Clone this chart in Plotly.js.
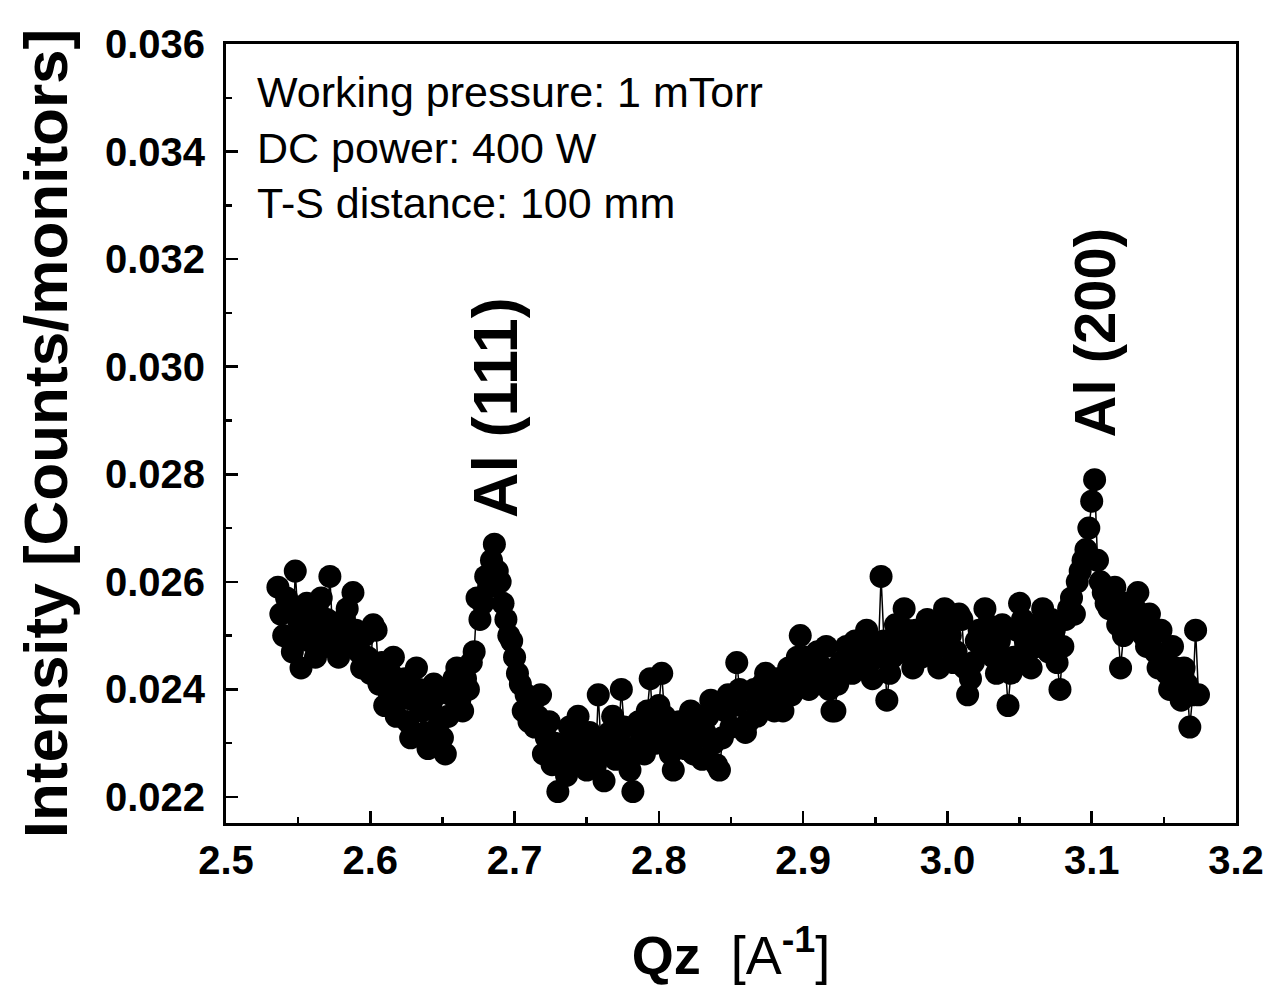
<!DOCTYPE html>
<html>
<head>
<meta charset="utf-8">
<script src="https://cdn.plot.ly/plotly-3.0.1.min.js"></script>
<style>
  html, body { margin: 0; padding: 0; background: #ffffff; }
  #chart { width: 1272px; height: 988px; }
</style>
</head>
<body>
<div id="chart"></div>
<script>
// Qz values [A^-1]
const qz = [
  2.536, 2.538, 2.540, 2.542, 2.544, 2.546, 2.548, 2.550, 2.552, 2.554,
  2.556, 2.558, 2.560, 2.562, 2.564, 2.566, 2.568, 2.570, 2.572, 2.574,
  2.576, 2.578, 2.580, 2.582, 2.584, 2.586, 2.588, 2.590, 2.592, 2.594,
  2.596, 2.598, 2.600, 2.602, 2.604, 2.606, 2.608, 2.610, 2.612, 2.614,
  2.616, 2.618, 2.620, 2.622, 2.624, 2.626, 2.628, 2.630, 2.632, 2.634,
  2.636, 2.638, 2.640, 2.642, 2.644, 2.646, 2.648, 2.650, 2.652, 2.654,
  2.656, 2.658, 2.660, 2.662, 2.664, 2.666, 2.668, 2.670, 2.672, 2.674,
  2.676, 2.678, 2.680, 2.682, 2.684, 2.686, 2.688, 2.690, 2.692, 2.694,
  2.696, 2.698, 2.700, 2.702, 2.704, 2.706, 2.708, 2.710, 2.712, 2.714,
  2.716, 2.718, 2.720, 2.722, 2.724, 2.726, 2.728, 2.730, 2.732, 2.734,
  2.736, 2.738, 2.740, 2.742, 2.744, 2.746, 2.748, 2.750, 2.752, 2.754,
  2.756, 2.758, 2.760, 2.762, 2.764, 2.766, 2.768, 2.770, 2.772, 2.774,
  2.776, 2.778, 2.780, 2.782, 2.784, 2.786, 2.788, 2.790, 2.792, 2.794,
  2.796, 2.798, 2.800, 2.802, 2.804, 2.806, 2.808, 2.810, 2.812, 2.814,
  2.816, 2.818, 2.820, 2.822, 2.824, 2.826, 2.828, 2.830, 2.832, 2.834,
  2.836, 2.838, 2.840, 2.842, 2.844, 2.846, 2.848, 2.850, 2.852, 2.854,
  2.856, 2.858, 2.860, 2.862, 2.864, 2.866, 2.868, 2.870, 2.872, 2.874,
  2.876, 2.878, 2.880, 2.882, 2.884, 2.886, 2.888, 2.890, 2.892, 2.894,
  2.896, 2.898, 2.900, 2.902, 2.904, 2.906, 2.908, 2.910, 2.912, 2.914,
  2.916, 2.918, 2.920, 2.922, 2.924, 2.926, 2.928, 2.930, 2.932, 2.934,
  2.936, 2.938, 2.940, 2.942, 2.944, 2.946, 2.948, 2.950, 2.952, 2.954,
  2.956, 2.958, 2.960, 2.962, 2.964, 2.966, 2.968, 2.970, 2.972, 2.974,
  2.976, 2.978, 2.980, 2.982, 2.984, 2.986, 2.988, 2.990, 2.992, 2.994,
  2.996, 2.998, 3.000, 3.002, 3.004, 3.006, 3.008, 3.010, 3.012, 3.014,
  3.016, 3.018, 3.020, 3.022, 3.024, 3.026, 3.028, 3.030, 3.032, 3.034,
  3.036, 3.038, 3.040, 3.042, 3.044, 3.046, 3.048, 3.050, 3.052, 3.054,
  3.056, 3.058, 3.060, 3.062, 3.064, 3.066, 3.068, 3.070, 3.072, 3.074,
  3.076, 3.078, 3.080, 3.082, 3.084, 3.086, 3.088, 3.090, 3.092, 3.094,
  3.096, 3.098, 3.100, 3.102, 3.104, 3.106, 3.108, 3.110, 3.112, 3.114,
  3.116, 3.118, 3.120, 3.122, 3.124, 3.126, 3.128, 3.130, 3.132, 3.134,
  3.136, 3.138, 3.140, 3.142, 3.144, 3.146, 3.148, 3.150, 3.152, 3.154,
  3.156, 3.158, 3.160, 3.162, 3.164, 3.166, 3.168, 3.170, 3.172, 3.174
];

// Intensity values [Counts/monitors]
const intensity = [
  0.0259, 0.0254, 0.0250, 0.0257, 0.0255, 0.0247, 0.0262, 0.0253, 0.0244, 0.0250,
  0.0256, 0.0249, 0.0251, 0.0246, 0.0254, 0.0257, 0.0248, 0.0253, 0.0261, 0.0250,
  0.0252, 0.0246, 0.0249, 0.0253, 0.0255, 0.0248, 0.0258, 0.0251, 0.0247, 0.0244,
  0.0250, 0.0246, 0.0243, 0.0252, 0.0251, 0.0241, 0.0245, 0.0237, 0.0240, 0.0243,
  0.0246, 0.0235, 0.0238, 0.0241, 0.0242, 0.0234, 0.0231, 0.0238, 0.0244, 0.0240,
  0.0236, 0.0232, 0.0229, 0.0237, 0.0241, 0.0239, 0.0234, 0.0231, 0.0228, 0.0235,
  0.0239, 0.0242, 0.0244, 0.0238, 0.0236, 0.0242, 0.0240, 0.0245, 0.0247, 0.0257,
  0.0253, 0.0256, 0.0261, 0.0259, 0.0264, 0.0267, 0.0262, 0.0260, 0.0256, 0.0253,
  0.0250, 0.0249, 0.0246, 0.0243, 0.0241, 0.0236, 0.0239, 0.0234, 0.0237, 0.0233,
  0.0235, 0.0239, 0.0228, 0.0231, 0.0234, 0.0226, 0.0230, 0.0221, 0.0227, 0.0229,
  0.0224, 0.0233, 0.0230, 0.0227, 0.0235, 0.0231, 0.0228, 0.0225, 0.0232, 0.0230,
  0.0226, 0.0239, 0.0229, 0.0223, 0.0228, 0.0232, 0.0235, 0.0227, 0.0231, 0.0240,
  0.0233, 0.0229, 0.0225, 0.0221, 0.0228, 0.0234, 0.0231, 0.0228, 0.0236, 0.0242,
  0.0233, 0.0230, 0.0237, 0.0243, 0.0235, 0.0232, 0.0228, 0.0225, 0.0230, 0.0234,
  0.0231, 0.0229, 0.0233, 0.0236, 0.0228, 0.0231, 0.0235, 0.0227, 0.0232, 0.0235,
  0.0238, 0.0230, 0.0226, 0.0225, 0.0231, 0.0236, 0.0239, 0.0233, 0.0237, 0.0245,
  0.0240, 0.0238, 0.0232, 0.0234, 0.0238, 0.0240, 0.0235, 0.0237, 0.0241, 0.0243,
  0.0238, 0.0239, 0.0236, 0.0242, 0.0240, 0.0236, 0.0241, 0.0244, 0.0239, 0.0241,
  0.0246, 0.0250, 0.0244, 0.0246, 0.0240, 0.0242, 0.0245, 0.0247, 0.0242, 0.0244,
  0.0248, 0.0240, 0.0236, 0.0236, 0.0241, 0.0245, 0.0243, 0.0248, 0.0246, 0.0243,
  0.0249, 0.0247, 0.0244, 0.0249, 0.0251, 0.0245, 0.0242, 0.0248, 0.0246, 0.0261,
  0.0249, 0.0238, 0.0243, 0.0246, 0.0252, 0.0250, 0.0247, 0.0255, 0.0251, 0.0248,
  0.0244, 0.0251, 0.0249, 0.0246, 0.0250, 0.0253, 0.0247, 0.0249, 0.0252, 0.0244,
  0.0248, 0.0255, 0.0251, 0.0250, 0.0245, 0.0247, 0.0254, 0.0253, 0.0244, 0.0239,
  0.0242, 0.0245, 0.0249, 0.0251, 0.0247, 0.0255, 0.0252, 0.0248, 0.0246, 0.0243,
  0.0249, 0.0252, 0.0245, 0.0237, 0.0243, 0.0246, 0.0251, 0.0256, 0.0253, 0.0249,
  0.0247, 0.0244, 0.0249, 0.0252, 0.0248, 0.0255, 0.0250, 0.0247, 0.0253, 0.0251,
  0.0245, 0.0240, 0.0248, 0.0253, 0.0255, 0.0257, 0.0254, 0.0260, 0.0262, 0.0264,
  0.0266, 0.0270, 0.0275, 0.0279, 0.0264, 0.0260, 0.0258, 0.0256, 0.0255, 0.0258,
  0.0259, 0.0252, 0.0244, 0.0250, 0.0256, 0.0254, 0.0252, 0.0255, 0.0258, 0.0253,
  0.0250, 0.0248, 0.0254, 0.0250, 0.0247, 0.0244, 0.0251, 0.0246, 0.0243, 0.0240,
  0.0248, 0.0244, 0.0240, 0.0238, 0.0244, 0.0241, 0.0233, 0.0239, 0.0251, 0.0239
];

const infoLines = ["Working pressure: 1 mTorr", "DC power: 400 W", "T-S distance: 100 mm"];
const peakLabels = ["Al (111)", "Al (200)"];
const peakQz = [2.686, 3.102];
const peakLabelY = [0.02924, 0.03063];

const xTickVals = [2.5, 2.6, 2.7, 2.8, 2.9, 3.0, 3.1, 3.2];
const xTickText = ["2.5", "2.6", "2.7", "2.8", "2.9", "3.0", "3.1", "3.2"];
const yTickVals = [0.022, 0.024, 0.026, 0.028, 0.030, 0.032, 0.034, 0.036];
const yTickText = ["0.022", "0.024", "0.026", "0.028", "0.030", "0.032", "0.034", "0.036"];

const trace = {
  x: qz,
  y: intensity,
  type: 'scatter',
  mode: 'lines+markers',
  line: { color: '#000000', width: 1.5 },
  marker: { symbol: 'circle', size: 23, color: '#000000' },
  hoverinfo: 'x+y',
  showlegend: false
};

const annotations = [];
const infoY = [0.9384, 0.8665, 0.7959];
infoLines.forEach((t, i) => {
  annotations.push({
    text: t, xref: 'paper', yref: 'paper', x: 0.0287, y: infoY[i],
    xanchor: 'left', yanchor: 'middle', showarrow: false,
    font: { family: 'Liberation Sans, Arial, sans-serif', size: 43, color: '#000' }
  });
});
const peakSizes = [63, 58];
peakLabels.forEach((t, i) => {
  annotations.push({
    text: t, xref: 'x', yref: 'y', x: peakQz[i], y: peakLabelY[i],
    xanchor: 'center', yanchor: 'middle', showarrow: false, textangle: -90,
    font: { family: 'Liberation Sans, Arial, sans-serif', size: peakSizes[i], color: '#000', weight: 'bold' }
  });
});

const layout = {
  width: 1272,
  height: 988,
  paper_bgcolor: '#ffffff',
  plot_bgcolor: '#ffffff',
  margin: { l: 226, r: 36, t: 44, b: 165 },
  showlegend: false,
  xaxis: {
    range: [2.5, 3.2],
    tickmode: 'array',
    tickvals: xTickVals,
    ticktext: xTickText,
    ticks: 'inside',
    ticklen: 12,
    tickwidth: 2.5,
    tickcolor: '#000',
    minor: { dtick: 0.05, ticks: 'inside', ticklen: 6, tickwidth: 2.5, tickcolor: '#000', showgrid: false },
    showline: true,
    linecolor: '#000',
    linewidth: 3,
    mirror: true,
    showgrid: false,
    zeroline: false,
    ticklabelstandoff: 0,
    tickfont: { family: 'Liberation Sans, Arial, sans-serif', size: 40, color: '#000', weight: 'bold' },
    title: {
      text: '<b>Qz</b>  [A<sup><b>-1</b></sup>]',
      font: { family: 'Liberation Sans, Arial, sans-serif', size: 54, color: '#000' },
      standoff: 56
    }
  },
  yaxis: {
    range: [0.021516, 0.036],
    tickmode: 'array',
    tickvals: yTickVals,
    ticktext: yTickText,
    ticks: 'inside',
    ticklen: 12,
    tickwidth: 2.5,
    tickcolor: '#000',
    minor: { dtick: 0.001, tick0: 0.022, ticks: 'inside', ticklen: 6, tickwidth: 2.5, tickcolor: '#000', showgrid: false },
    showline: true,
    linecolor: '#000',
    linewidth: 3,
    mirror: true,
    showgrid: false,
    zeroline: false,
    ticklabelstandoff: 10,
    tickfont: { family: 'Liberation Sans, Arial, sans-serif', size: 40, color: '#000', weight: 'bold' },
    title: {
      text: 'Intensity [Counts/monitors]',
      font: { family: 'Liberation Sans, Arial, sans-serif', size: 62, color: '#000', weight: 'bold' },
      standoff: 18
    }
  },
  annotations: annotations
};

Plotly.newPlot('chart', [trace], layout, { displayModeBar: false, staticPlot: true });
</script>
</body>
</html>
